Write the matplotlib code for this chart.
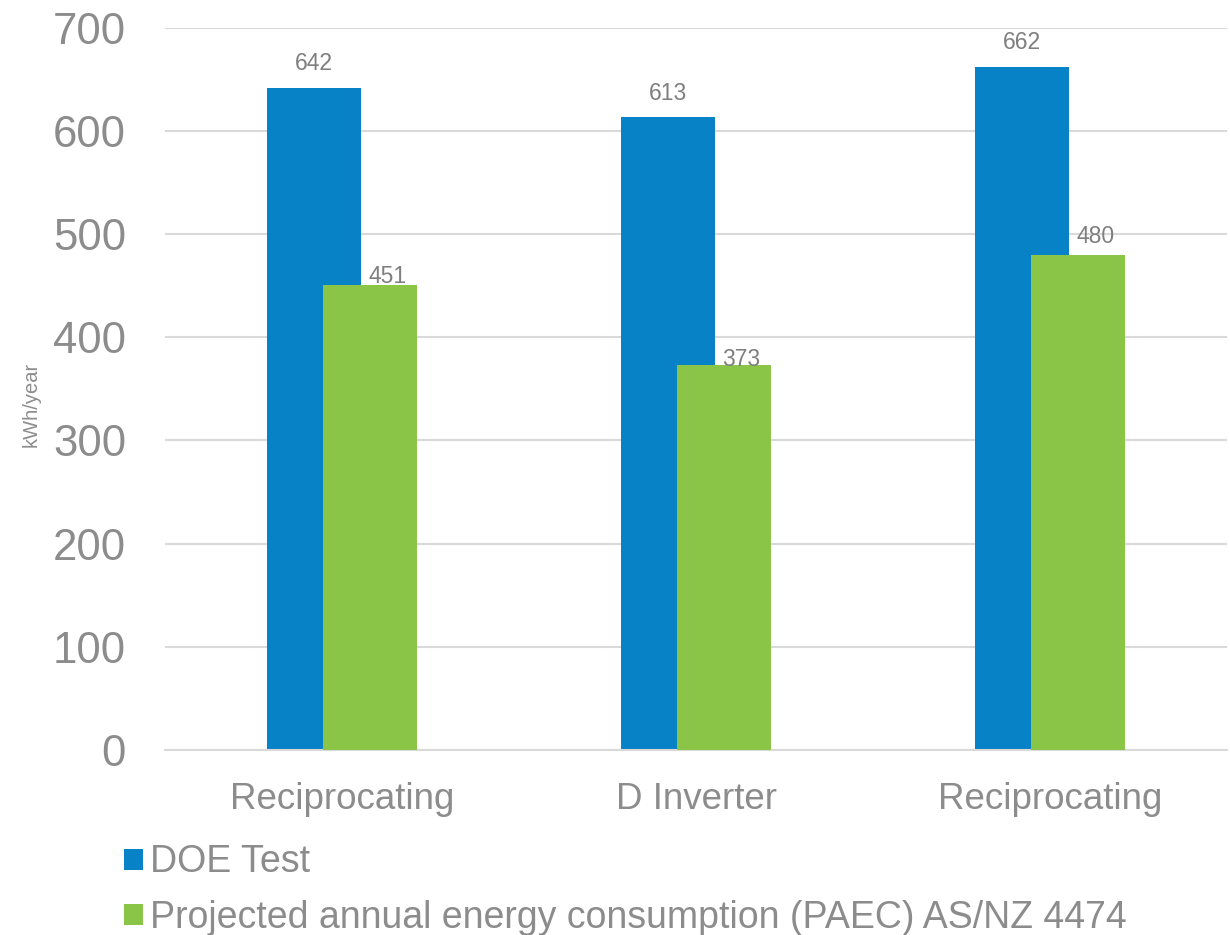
import matplotlib
matplotlib.use("Agg")
import matplotlib.pyplot as plt
import numpy as np

categories = ["Reciprocating", "D Inverter", "Reciprocating"]
doe_test = [642, 613, 662]
paec = [451, 373, 480]
series_names = ["DOE Test", "Projected annual energy consumption (PAEC) AS/NZ 4474"]
y_ticks = [0, 100, 200, 300, 400, 500, 600, 700]

BLUE = "#0782C6"
GREEN = "#8BC547"
TICK_GRAY = "#8C8C8C"
LABEL_GRAY = "#7F7F7F"
GRID = "#D9D9D9"

plt.rcParams["font.family"] = ["Liberation Sans", "DejaVu Sans"]

fig = plt.figure(figsize=(12.3, 9.35), dpi=100)
ax = fig.add_axes([165 / 1230, 1 - 750 / 935, (1227 - 165) / 1230, (750 - 27.7) / 935])

x = np.arange(len(categories))
width = 0.263
shift = 0.079

b1 = ax.bar(x - shift, doe_test, width, color=BLUE, zorder=2, label=series_names[0])
b2 = ax.bar(x + shift, paec, width, color=GREEN, zorder=3, label=series_names[1])

# value labels: above the blue bars, and up-right of the green bars
for xi, v in zip(x, doe_test):
    ax.annotate(str(v), (xi - shift, v), xytext=(0, 9), textcoords="offset points",
                ha="center", va="bottom", fontsize=16.5, color=LABEL_GRAY, zorder=4)
green_dy = [-2.5, -4, 5]
for xi, v, dy in zip(x, paec, green_dy):
    ax.annotate(str(v), (xi + shift, v), xytext=(12.5, dy), textcoords="offset points",
                ha="center", va="bottom", fontsize=16.5, color=LABEL_GRAY, zorder=4)

ax.set_xlim(-0.5, len(categories) - 0.5)
ax.set_ylim(0, 700)
ax.set_yticks(y_ticks)
ax.set_xticks(x)
ax.set_xticklabels(categories)
ax.tick_params(axis="y", length=0, pad=28, labelsize=31.5, labelcolor=TICK_GRAY)
ax.tick_params(axis="x", length=0, pad=23, labelsize=26.5, labelcolor=TICK_GRAY)

ax.yaxis.grid(True, color=GRID, linewidth=1.5, zorder=0)
ax.set_axisbelow(True)
for side in ["top", "right", "left"]:
    ax.spines[side].set_visible(False)
ax.spines["bottom"].set_color(GRID)
ax.spines["bottom"].set_linewidth(1.5)

fig.text(31 / 1230, 1 - 404 / 935, "kWh/year", rotation=90, ha="center", va="center",
         fontsize=14.5, color=TICK_GRAY)

fig.legend(handles=[b1, b2], labels=series_names, loc="upper left",
           bbox_to_anchor=(124 / 1230, 1 - 844.5 / 935), frameon=False,
           fontsize=27, labelcolor=TICK_GRAY, handlelength=0.51, handleheight=0.5,
           handletextpad=0.18, labelspacing=0.52, borderaxespad=0, borderpad=0)

fig.savefig("out.png", dpi=100)
